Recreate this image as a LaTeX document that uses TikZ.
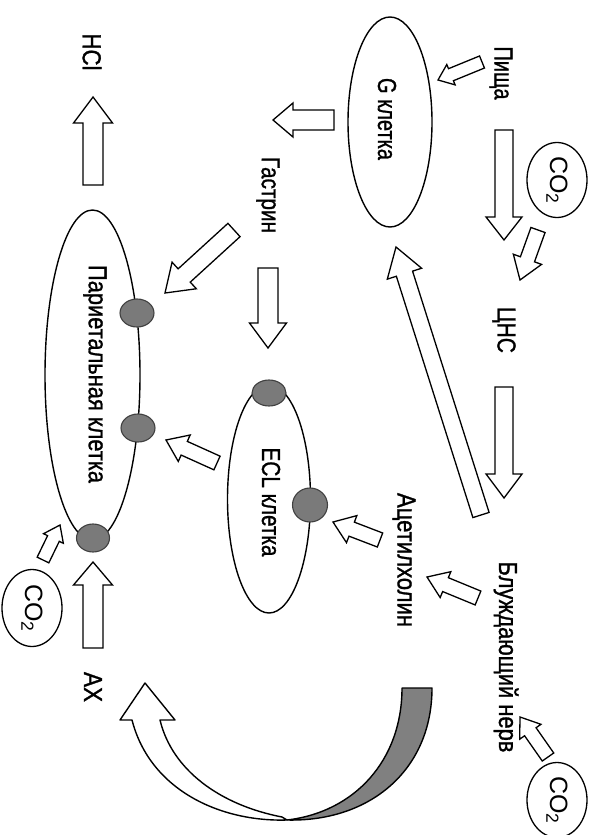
\documentclass[tikz,border=0pt]{standalone}
\usepackage{fontspec}
\setmainfont{Liberation Sans}
\newfontfamily\lblfont[FakeBold=1.2]{Liberation Sans}
\usepackage{graphicx}
\usetikzlibrary{calc,shapes.geometric}
\tikzset{
  cell/.style={ellipse, draw=black, line width=1.4pt, inner sep=0pt},
  dot/.style={ellipse, draw=black!75, line width=1.1pt, fill=black!52, inner sep=0pt, minimum width=34pt, minimum height=28pt},
  lbl/.style={rotate=-90, font=\lblfont\fontsize{26}{26}\selectfont, inner sep=0pt},
  co/.style={ellipse, draw=black, line width=1.3pt, inner sep=0pt, minimum width=60pt, minimum height=75pt},
  colbl/.style={rotate=-90, font=\fontsize{25}{25}\selectfont, inner sep=0pt},
  barstyle/.style={draw=black, line width=1.3pt, fill=white, line join=miter},
  curvestyle/.style={draw=black, line width=1.4pt, line join=round},
}
\newcommand{\tx}[2]{\resizebox{#1pt}{\height}{#2}}
\newcommand{\barr}[5]{%
  \coordinate (hb) at ($(#2)!#5pt!(#1)$);
  \draw[barstyle] ($(#1)!#3pt!90:(#2)$) -- ($(hb)!#3pt!-90:(#1)$) -- ($(hb)!#4pt!-90:(#1)$) -- (#2) -- ($(hb)!#4pt!90:(#1)$) -- ($(hb)!#3pt!90:(#1)$) -- ($(#1)!#3pt!-90:(#2)$) -- cycle;
}
\begin{document}
\begin{tikzpicture}[x=1pt, y=-1pt]
\useasboundingbox (0,0) rectangle (595,835);
\fill[white] (0,0) rectangle (595,835);

% cells
\node[cell, minimum width=95pt, minimum height=330pt] (par) at (92.5,375) {};
\node[cell, minimum width=84pt, minimum height=210pt] (gcell) at (390,122) {};
\node[cell, minimum width=83pt, minimum height=228pt] (ecl) at (269,499) {};

% receptor dots
\node[dot] (pd1) at (137,313) {};
\node[dot] (pd2) at (138,428) {};
\node[dot, minimum width=33pt] (pd3) at (93,538) {};
\node[dot, minimum height=26pt] (ed1) at (269,393) {};
\node[dot, minimum width=35pt, minimum height=34pt] (ed2) at (310,505) {};

% CO2 circles
\node[co] (co1) at (557,180) {};
\node[co] (co2) at (557,800) {};
\node[co, minimum height=77pt] (co3) at (32,608) {};
\node[colbl] at (co1) {CO\textsubscript{2}};
\node[colbl] at (co2) {CO\textsubscript{2}};
\node[colbl] at (co3) {CO\textsubscript{2}};

% labels
\node[lbl] (hcl) at (92,52) {\tx{37}{HCl}};
\node[lbl] (gastrin) at (268,195) {\tx{76}{Гастрин}};
\node[lbl] (food) at (501,73) {\tx{53}{Пища}};
\node[lbl] (glbl) at (387,119) {\tx{82}{G клетка}};
\node[lbl] (cns) at (504,330) {\tx{46}{ЦНС}};
\node[lbl] (vagus) at (506,657) {\tx{191}{Блуждающий нерв}};
\node[lbl] (ach) at (404,560) {\tx{134}{Ацетилхолин}};
\node[lbl] (ecllbl) at (271,502) {\tx{109}{ECL клетка}};
\node[lbl] (parlbl) at (95,374) {\tx{218}{Париетальная клетка}};
\node[lbl] (ax) at (93,687) {\tx{30}{АХ}};

% arrow end points
\coordinate (t1) at (93,185);  \coordinate (h1) at (93,97);
\coordinate (t2) at (334,120); \coordinate (h2) at (273,120);
\coordinate (t3) at (482,62);  \coordinate (h3) at (438,80);
\coordinate (t4) at (504,130); \coordinate (h4) at (504,240);
\coordinate (t5) at (538,230); \coordinate (h5) at (520,280);
\coordinate (t6) at (504,387); \coordinate (h6) at (504,498);
\coordinate (t7) at (481,515); \coordinate (h7) at (396,247);
\coordinate (t8) at (268,268); \coordinate (h8) at (268,348);
\coordinate (t9) at (234,230); \coordinate (h9) at (165,293);
\coordinate (t10) at (217,463); \coordinate (h10) at (166,440);
\coordinate (t11) at (380,540); \coordinate (h11) at (333,522);
\coordinate (t12) at (478,598); \coordinate (h12) at (427,577);
\coordinate (t13) at (548,757); \coordinate (h13) at (520,717);
\coordinate (t14) at (43,560);  \coordinate (h14) at (60,525);
\coordinate (t15) at (93,648);  \coordinate (h15) at (93,562);

\barr{t1}{h1}{10}{19.5}{26}
\barr{t2}{h2}{10}{17}{20}
\barr{t3}{h3}{6.5}{11}{14}
\barr{t4}{h4}{9}{18}{23}
\barr{t5}{h5}{7.5}{15}{22}
\barr{t6}{h6}{9}{18}{24}
\barr{t7}{h7}{8.5}{18}{28}
\barr{t8}{h8}{10}{18.5}{25}
\barr{t9}{h9}{9}{18}{26}
\barr{t10}{h10}{7.5}{14.5}{20}
\barr{t11}{h11}{7.5}{14.5}{20}
\barr{t12}{h12}{7.5}{14}{20}
\barr{t13}{h13}{7}{13}{18}
\barr{t14}{h14}{6.5}{11}{15}
\barr{t15}{h15}{10}{19.5}{23}

% big curved arrow (acetylcholine -> AX)
\coordinate (cs) at (417,688);
\coordinate (ce) at (145,683);
\draw[curvestyle, fill=black!50] (402,688) -- (432,688)
  .. controls (432,770) and (370,822) .. (287,820)
  .. controls (355,812) and (402,760) .. (402,688) -- cycle;
\draw[curvestyle, fill=white] (287,820)
  .. controls (220,822) and (150,790) .. (132,720)
  -- (120,720) -- (ce) -- (175,720) -- (160,720)
  .. controls (172,770) and (220,805) .. (282,817) -- cycle;
\end{tikzpicture}
\end{document}
